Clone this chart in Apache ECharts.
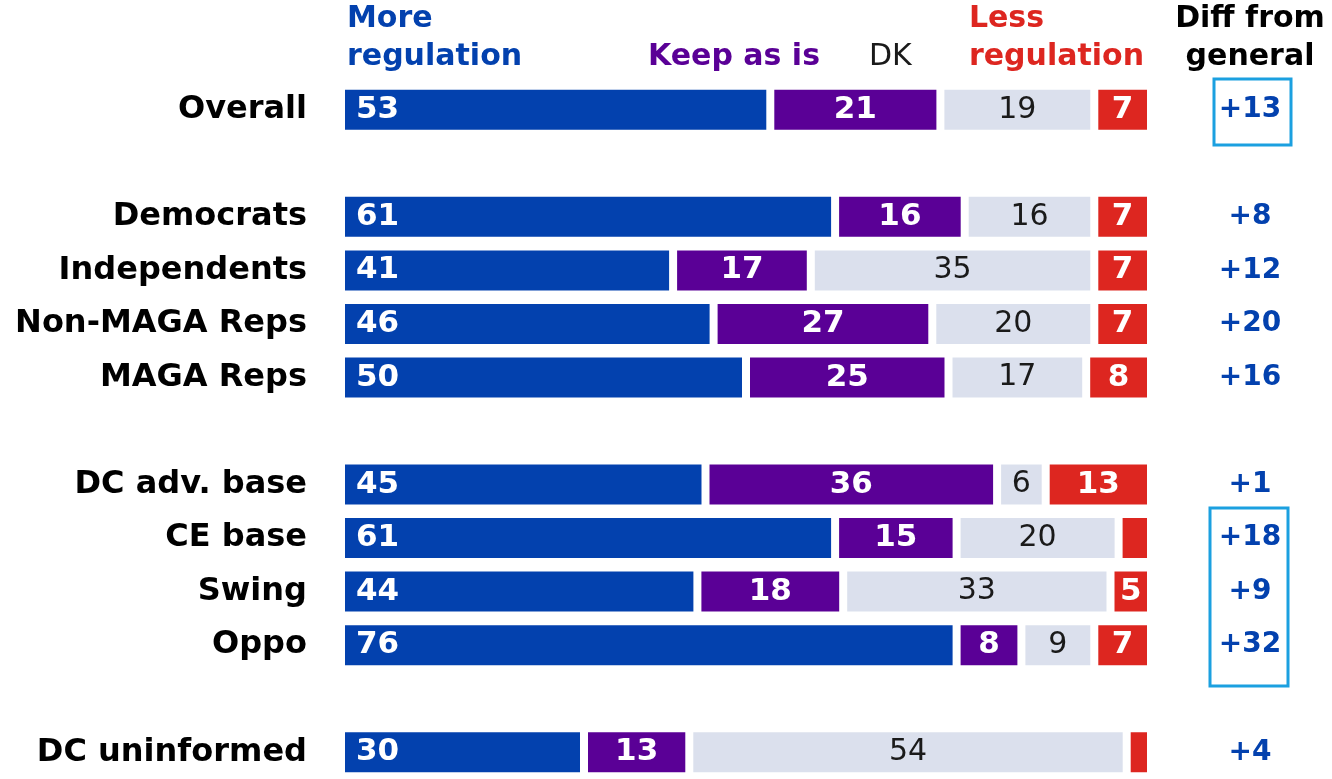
<!DOCTYPE html>
<html>
<head>
<meta charset="utf-8">
<script src="https://cdn.jsdelivr.net/npm/echarts@6/dist/echarts.min.js"></script>
<style>
  html, body { margin: 0; padding: 0; background: #fff; }
  #app { width: 1332px; height: 779px; }
</style>
</head>
<body>
<div id="app"></div>
<script>
// rows ('' = spacer row)
var groups = ['Overall', '', 'Democrats', 'Independents', 'Non-MAGA Reps', 'MAGA Reps', '',
  'DC adv. base', 'CE base', 'Swing', 'Oppo', '', 'DC uninformed'];
var moreReg = [53, null, 61, 41, 46, 50, null, 45, 61, 44, 76, null, 30];
var keepAsIs = [21, null, 16, 17, 27, 25, null, 36, 15, 18, 8, null, 13];
var dontKnow = [19, null, 16, 35, 20, 17, null, 6, 20, 33, 9, null, 54];
var lessReg = [7, null, 7, 7, 7, 8, null, 13, 4, 5, 7, null, 3];
var diffGeneral = ['+13', '', '+8', '+12', '+20', '+16', '', '+1', '+18', '+9', '+32', '', '+4'];

var FONT = '"DejaVu Sans", sans-serif';
var BLUE = '#0341ae', PURPLE = '#5a0096', GREY = '#dbe0ed', RED = '#dd2620';

var chart = echarts.init(document.getElementById('app'), null, { renderer: 'canvas' });

// white border (drawn inside the rect) makes the gaps between segments
function barSeries(name, data, color, label) {
    return {
        name: name,
        type: 'bar',
        stack: 'all',
        data: data,
        barWidth: 48,
        itemStyle: { color: color, borderColor: '#fff', borderWidth: 4 },
        label: label,
        emphasis: { disabled: true }
    };
}

var option = {
    animation: false,
    grid: { left: 341, right: 181, top: 83, bottom: 0 },
    xAxis: { type: 'value', min: 0, max: 100, show: false },
    yAxis: [{
        type: 'category',
        inverse: true,
        data: groups,
        axisLine: { show: false },
        axisTick: { show: false },
        axisLabel: { color: '#000', fontFamily: FONT, fontWeight: 'bold', fontSize: 32, margin: 34 }
    }, {
        type: 'category',
        inverse: true,
        position: 'right',
        data: diffGeneral,
        axisLine: { show: false },
        axisTick: { show: false },
        axisLabel: { color: BLUE, fontFamily: FONT, fontWeight: 'bold', fontSize: 28, align: 'center', margin: 99 }
    }],
    series: [
        barSeries('More regulation', moreReg, BLUE, {
            show: true, position: 'insideLeft', distance: 15, color: '#fff',
            fontFamily: FONT, fontWeight: 'bold', fontSize: 31
        }),
        barSeries('Keep as is', keepAsIs, PURPLE, {
            show: true, position: 'inside', color: '#fff',
            fontFamily: FONT, fontWeight: 'bold', fontSize: 31
        }),
        barSeries('DK', dontKnow, GREY, {
            show: true, position: 'inside', color: '#1a1a1a',
            fontFamily: FONT, fontWeight: 'normal', fontSize: 30
        }),
        barSeries('Less regulation', lessReg, RED, {
            show: true, position: 'inside', color: '#fff',
            fontFamily: FONT, fontWeight: 'bold', fontSize: 31,
            formatter: function (p) { return p.value < 5 ? '' : p.value; }
        })
    ],
    graphic: [
        { type: 'text', left: 347, top: 0, style: { text: 'More\nregulation', fill: BLUE, font: 'bold 30px ' + FONT, lineHeight: 38 } },
        { type: 'text', right: 1332 - 820, top: 38, style: { text: 'Keep as is', fill: PURPLE, font: 'bold 30px ' + FONT, lineHeight: 38 } },
        { type: 'text', left: 869, top: 38, style: { text: 'DK', fill: '#1a1a1a', font: '30px ' + FONT, lineHeight: 38 } },
        { type: 'text', right: 1332 - 1144, top: 0, style: { text: 'Less\nregulation', fill: RED, font: 'bold 30px ' + FONT, lineHeight: 38, align: 'right' } },
        { type: 'text', x: 1250, y: 0, style: { text: 'Diff from\ngeneral', fill: '#000', font: 'bold 30px ' + FONT, lineHeight: 38, align: 'center' } },
        { type: 'rect', shape: { x: 1214, y: 79, width: 77, height: 66 }, style: { fill: 'none', stroke: '#1ba0e0', lineWidth: 3 } },
        { type: 'rect', shape: { x: 1210, y: 508, width: 78, height: 178 }, style: { fill: 'none', stroke: '#1ba0e0', lineWidth: 3 } }
    ]
};

chart.setOption(option);
</script>
</body>
</html>
